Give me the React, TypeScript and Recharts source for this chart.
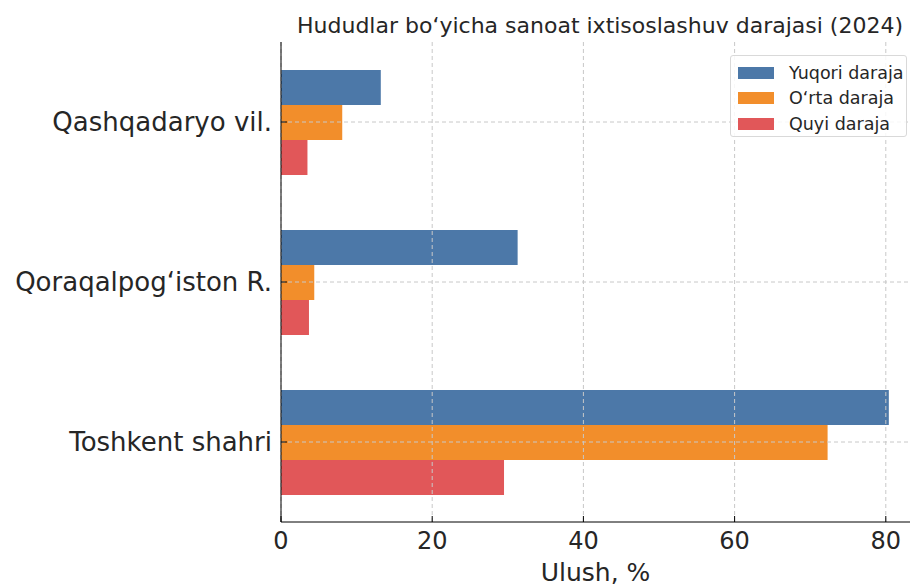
import React from "react";
import {
  BarChart,
  Bar,
  XAxis,
  YAxis,
  CartesianGrid,
  Legend,
} from "recharts";

const regions = ["Qashqadaryo vil.", "Qoraqalpog‘iston R.", "Toshkent shahri"];
const seriesNames = ["Yuqori daraja", "O‘rta daraja", "Quyi daraja"];
const yuqori = [13.2, 31.3, 80.4];
const orta = [8.1, 4.4, 72.3];
const quyi = [3.5, 3.7, 29.5];
const xTicks = [0, 20, 40, 60, 80];

const data = regions.map((name, i) => ({
  name,
  yuqori: yuqori[i],
  orta: orta[i],
  quyi: quyi[i],
}));

const FONT = "'DejaVu Sans', sans-serif";
const TEXT = "#262626";

function LegendBox(props: any) {
  const items = [...(props.payload || [])].sort(
    (a: any, b: any) => seriesNames.indexOf(a.value) - seriesNames.indexOf(b.value)
  );
  return (
    <div
      style={{
        width: 177,
        height: 82,
        boxSizing: "border-box",
        border: "1px solid #d9d9d9",
        borderRadius: 3,
        background: "rgba(255,255,255,0.85)",
        padding: "4px 0 0 7px",
        fontFamily: FONT,
      }}
    >
      {items.map((it: any) => (
        <div
          key={it.value}
          style={{ display: "flex", alignItems: "center", height: 25.5 }}
        >
          <span
            style={{
              display: "inline-block",
              width: 36,
              height: 12,
              background: it.color,
              marginRight: 15,
            }}
          />
          <span style={{ fontSize: 17.5, color: TEXT }}>{it.value}</span>
        </div>
      ))}
    </div>
  );
}

// draw grid over the bars like the original, axes on top of the grid
const gridLayer = { zIndex: 500 } as any;
const axisLayer = { zIndex: 600 } as any;

export default function App() {
  return (
    <div
      style={{
        position: "absolute",
        left: 0,
        top: 0,
        width: 910,
        height: 586,
        overflow: "hidden",
        background: "#fff",
        fontFamily: FONT,
      }}
    >
      <div
        style={{
          position: "absolute",
          left: 290,
          width: 620,
          top: 13,
          textAlign: "center",
          fontSize: 22,
          color: TEXT,
          whiteSpace: "nowrap",
        }}
      >
        Hududlar bo‘yicha sanoat ixtisoslashuv darajasi (2024)
      </div>
      <BarChart
        width={910}
        height={586}
        data={data}
        layout="vertical"
        margin={{ top: 42, right: 0, bottom: 0, left: 0 }}
        barGap={0}
      >
        <XAxis
          type="number"
          domain={[0, 83.2]}
          ticks={xTicks}
          allowDataOverflow
          height={64}
          tickSize={-6}
          tickMargin={16}
          stroke="#000"
          tick={{ fontSize: 24, fill: TEXT, fontFamily: FONT }}
          label={{
            value: "Ulush, %",
            position: "insideBottom",
            offset: 5,
            fontSize: 25,
            fill: TEXT,
            fontFamily: FONT,
          }}
          {...axisLayer}
        />
        <YAxis
          type="category"
          dataKey="name"
          width={281}
          tickSize={-6}
          tickMargin={15}
          stroke="#000"
          tick={{ fontSize: 26, fill: TEXT, fontFamily: FONT }}
          {...axisLayer}
        />
        <Legend
          layout="vertical"
          align="center"
          verticalAlign="middle"
          content={<LegendBox />}
          wrapperStyle={{ left: 730, top: 55, width: 177 }}
        />
        <Bar
          dataKey="yuqori"
          name={seriesNames[0]}
          fill="#4c78a8"
          barSize={35}
          isAnimationActive={false}
        />
        <Bar
          dataKey="orta"
          name={seriesNames[1]}
          fill="#f28e2b"
          barSize={35}
          isAnimationActive={false}
        />
        <Bar
          dataKey="quyi"
          name={seriesNames[2]}
          fill="#e15759"
          barSize={35}
          isAnimationActive={false}
        />
        <CartesianGrid
          stroke="#c8c8c8"
          strokeDasharray="4 3"
          syncWithTicks
          horizontal={true}
          vertical={true}
          {...gridLayer}
        />
      </BarChart>
    </div>
  );
}
